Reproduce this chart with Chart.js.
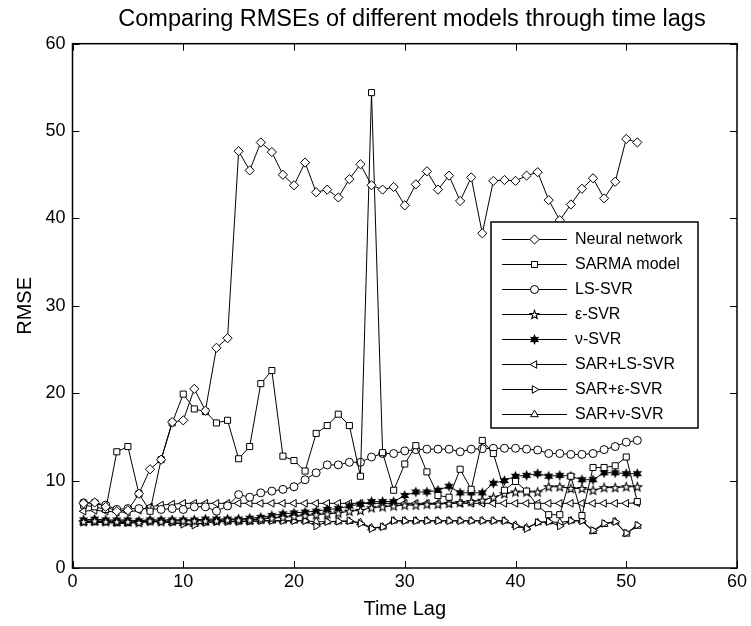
<!DOCTYPE html>
<html><head><meta charset="utf-8">
<script src="https://cdn.jsdelivr.net/npm/chart.js@4.4.0/dist/chart.umd.min.js"></script>
<style>html,body{margin:0;padding:0;background:#fff}#wrap{width:751px;height:626px}</style>
</head><body><div id="wrap"><canvas id="c" width="751" height="626"></canvas></div>
<script>
// ---------------- data ----------------
const lags = [1,2,3,4,5,6,7,8,9,10,11,12,13,14,15,16,17,18,19,20,21,22,23,24,25,26,27,28,29,30,31,32,33,34,35,36,37,38,39,40,41,42,43,44,45,46,47,48,49,50,51];
const neuralNetwork = [7.4,7.5,7.0,6.5,6.6,8.5,11.3,12.4,16.7,16.9,20.5,18.0,25.2,26.3,47.7,45.5,48.7,47.6,45.0,43.8,46.4,43.0,43.3,42.4,44.5,46.2,43.8,43.3,43.6,41.5,43.9,45.4,43.3,44.9,42.0,44.7,38.3,44.3,44.4,44.3,44.9,45.3,42.1,39.8,41.6,43.4,44.6,42.3,44.2,49.1,48.7];
const sarmaModel = [7.2,7.0,6.7,13.3,13.9,8.5,6.5,12.4,16.6,19.9,18.2,17.9,16.6,16.9,12.5,13.9,21.1,22.6,12.8,12.3,11.1,15.4,16.3,17.6,16.3,10.5,54.4,13.2,8.9,11.9,14.0,11.0,8.3,8.1,11.3,9.0,14.6,13.1,8.9,9.9,8.8,7.1,6.1,6.1,10.5,6.0,11.5,11.5,11.7,12.7,7.6];
const lsSvr = [7.45,7.45,7.2,6.7,6.8,6.8,6.8,6.7,6.8,6.7,7.0,7.0,6.5,7.1,8.4,8.1,8.6,8.8,9.0,9.3,10.1,10.9,11.8,11.8,12.1,12.1,12.7,13.1,13.1,13.4,13.55,13.6,13.6,13.6,13.3,13.6,13.65,13.7,13.7,13.7,13.6,13.5,13.1,13.1,13.0,13.0,13.1,13.55,13.9,14.4,14.6];
const epsSvr = [5.3,5.4,5.3,5.3,5.3,5.2,5.4,5.3,5.4,5.4,5.4,5.4,5.4,5.5,5.5,5.5,5.6,5.7,5.8,5.9,6.0,6.1,6.2,6.3,6.5,6.6,6.9,7.0,7.1,7.2,7.2,7.3,7.3,7.4,7.5,7.6,7.75,8.1,8.5,8.7,8.7,8.7,9.3,9.3,9.1,9.1,8.9,9.2,9.2,9.3,9.3];
const nuSvr = [5.5,5.6,5.5,5.5,5.5,5.4,5.5,5.5,5.5,5.5,5.5,5.6,5.6,5.6,5.6,5.7,5.8,6.0,6.2,6.3,6.4,6.5,6.7,6.8,7.1,7.3,7.6,7.6,7.6,8.3,8.7,8.7,8.9,9.35,8.6,8.6,8.6,9.7,10.0,10.5,10.6,10.8,10.5,10.6,10.5,10.1,10.1,10.9,10.9,10.8,10.8];
const sarLsSvr = [6.5,6.6,6.5,6.4,6.4,6.6,7.0,7.2,7.3,7.4,7.4,7.4,7.4,7.4,7.4,7.4,7.4,7.4,7.4,7.4,7.4,7.4,7.4,7.4,7.4,7.4,7.4,7.4,7.4,7.4,7.4,7.4,7.4,7.4,7.4,7.4,7.4,7.4,7.4,7.4,7.4,7.4,7.4,7.4,7.4,7.4,7.4,7.4,7.4,7.4,7.45];
const sarEpsSvr = [5.3,5.3,5.3,5.2,5.2,5.3,5.3,5.3,5.2,5.0,4.9,5.2,5.3,5.3,5.3,5.35,5.4,5.4,5.4,5.4,5.4,4.8,5.3,5.35,5.4,5.1,4.5,4.7,5.4,5.4,5.4,5.4,5.4,5.4,5.4,5.4,5.4,5.4,5.4,4.8,4.5,5.2,5.3,4.8,5.4,5.4,4.3,5.1,5.3,4.0,4.9];
const sarNuSvr = [5.2,5.2,5.2,5.1,5.1,5.2,5.3,5.3,5.2,5.1,5.0,5.2,5.3,5.3,5.3,5.3,5.4,5.4,5.4,5.4,5.4,5.3,5.3,5.3,5.35,5.2,4.6,4.7,5.4,5.4,5.4,5.4,5.4,5.4,5.4,5.4,5.4,5.4,5.4,4.9,4.6,5.2,5.3,5.2,5.4,5.4,4.2,5.0,5.3,3.9,4.8];
const seriesNames = ['Neural network','SARMA model','LS-SVR','\u03b5-SVR','\u03bd-SVR','SAR+LS-SVR','SAR+\u03b5-SVR','SAR+\u03bd-SVR'];
const seriesValues = [neuralNetwork, sarmaModel, lsSvr, epsSvr, nuSvr, sarLsSvr, sarEpsSvr, sarNuSvr];
const xTicks = [0,10,20,30,40,50,60];
const yTicks = [0,10,20,30,40,50,60];
const titleText = 'Comparing RMSEs of different models through time lags';
const xTitle = 'Time Lag';
const yTitle = 'RMSE';

// ---------------- markers ----------------
const FONT = "'Liberation Sans', Arial, Helvetica, sans-serif";
function starPath(g, cx, cy, n, ro, ri) {
  for (let i = 0; i < 2 * n; i++) {
    const r = i % 2 ? ri : ro;
    const a = -Math.PI / 2 + i * Math.PI / n;
    const px = cx + r * Math.cos(a), py = cy + r * Math.sin(a);
    if (i === 0) g.moveTo(px, py); else g.lineTo(px, py);
  }
  g.closePath();
}
function makeStar(n, ro, ri, fill) {
  const s = 13, c = document.createElement('canvas');
  c.width = s; c.height = s;
  const g = c.getContext('2d'), m = s / 2;
  g.lineWidth = 1.1; g.strokeStyle = '#000'; g.fillStyle = fill;
  g.beginPath();
  starPath(g, m, m + (n === 5 ? 0.4 : 0), n, ro, ri);
  g.fill(); g.stroke();
  return c;
}
// marker style per series: [pointStyle, radius, rotation]
const markerStyles = [
  ['rectRot', 4.6, 0],
  ['rect', 4.3, 0],
  ['circle', 4.0, 0],
  [makeStar(5, 4.5, 1.9, '#fff'), 5, 0],
  [makeStar(6, 4.1, 2.1, '#000'), 5, 0],
  ['triangle', 4.4, -90],
  ['triangle', 4.4, 90],
  ['triangle', 4.4, 0]
];

const datasets = seriesNames.map((name, i) => ({
  label: name,
  data: lags.map((x, j) => ({x: x, y: seriesValues[i][j]})),
  borderColor: '#000',
  borderWidth: 1,
  pointStyle: markerStyles[i][0],
  pointRadius: markerStyles[i][1],
  pointHoverRadius: markerStyles[i][1],
  pointRotation: markerStyles[i][2],
  pointBackgroundColor: '#fff',
  pointBorderColor: '#000',
  pointBorderWidth: 1,
  tension: 0,
  fill: false
}));

function drawMarker(ctx, style, r, rot, x, y) {
  ctx.save();
  ctx.fillStyle = '#fff'; ctx.strokeStyle = '#000'; ctx.lineWidth = 1;
  if (typeof style !== 'string') {
    ctx.drawImage(style, x - style.width / 2, y - style.height / 2);
  } else if (Chart.helpers && Chart.helpers.drawPoint) {
    Chart.helpers.drawPoint(ctx, {pointStyle: style, radius: r, rotation: rot, borderWidth: 1}, x, y);
  } else {
    ctx.beginPath(); ctx.arc(x, y, r, 0, Math.PI * 2); ctx.fill(); ctx.stroke();
  }
  ctx.restore();
}

// ---------------- plugins ----------------
const framePlugin = {
  id: 'frame',
  afterDatasetsDraw(chart) {
    const {ctx, chartArea: a, scales: {x, y}} = chart;
    ctx.save();
    ctx.strokeStyle = '#000';
    ctx.lineWidth = 1.5;
    ctx.strokeRect(a.left, a.top, a.right - a.left, a.bottom - a.top);
    ctx.lineWidth = 1;
    const tl = 7;
    ctx.beginPath();
    xTicks.forEach(v => {
      const px = Math.round(x.getPixelForValue(v)) + 0.5;
      ctx.moveTo(px, a.bottom); ctx.lineTo(px, a.bottom - tl);
      ctx.moveTo(px, a.top); ctx.lineTo(px, a.top + tl);
    });
    yTicks.forEach(v => {
      const py = Math.round(y.getPixelForValue(v)) + 0.5;
      ctx.moveTo(a.left, py); ctx.lineTo(a.left + tl, py);
      ctx.moveTo(a.right, py); ctx.lineTo(a.right - tl, py);
    });
    ctx.stroke();
    // title centred over the plot area
    ctx.fillStyle = '#000';
    ctx.font = '23.5px ' + FONT;
    ctx.textAlign = 'center';
    ctx.textBaseline = 'middle';
    ctx.fillText(titleText, 412, 20);
    ctx.restore();
  }
};
const legendPlugin = {
  id: 'boxLegend',
  afterDraw(chart) {
    const ctx = chart.ctx;
    const bx = 491, by = 222, bw = 207, bh = 206;
    ctx.save();
    ctx.fillStyle = '#fff';
    ctx.fillRect(bx, by, bw, bh);
    ctx.strokeStyle = '#000';
    ctx.lineWidth = 1.5;
    ctx.strokeRect(bx, by, bw, bh);
    ctx.font = '16px ' + FONT;
    ctx.textBaseline = 'middle';
    ctx.textAlign = 'left';
    chart.data.datasets.forEach((ds, i) => {
      const yy = by + 17 + 25 * i;
      ctx.strokeStyle = '#000';
      ctx.lineWidth = 1;
      ctx.beginPath();
      ctx.moveTo(502, yy + 0.5); ctx.lineTo(567, yy + 0.5);
      ctx.stroke();
      drawMarker(ctx, ds.pointStyle, ds.pointRadius, ds.pointRotation, 534.5, yy + 0.5);
      ctx.fillStyle = '#000';
      ctx.fillText(ds.label, 575, yy + 1);
    });
    ctx.restore();
  }
};

new Chart(document.getElementById('c'), {
  type: 'line',
  data: {datasets: datasets},
  options: {
    responsive: false,
    animation: false,
    devicePixelRatio: 1,
    events: [],
    layout: {padding: {left: 0, right: 14, top: 43.7, bottom: 0}},
    plugins: {
      legend: {display: false},
      tooltip: {enabled: false},
      title: {display: false}
    },
    scales: {
      x: {
        type: 'linear', min: 0, max: 60,
        afterBuildTicks(s) { s.ticks = xTicks.map(v => ({value: v})); },
        ticks: {color: '#000', font: {family: FONT, size: 18}, padding: 3, maxRotation: 0, autoSkip: false},
        grid: {display: false, drawTicks: false},
        border: {display: false},
        title: {display: true, text: xTitle, color: '#000', font: {family: FONT, size: 20}, padding: {top: 0, bottom: 5}},
        afterFit(s) { s.height = 58; }
      },
      y: {
        type: 'linear', min: 0, max: 60,
        afterBuildTicks(s) { s.ticks = yTicks.map(v => ({value: v})); },
        ticks: {color: '#000', font: {family: FONT, size: 18}, padding: 7, autoSkip: false},
        grid: {display: false, drawTicks: false},
        border: {display: false},
        title: {display: true, text: yTitle, color: '#000', font: {family: FONT, size: 20}, padding: {top: 13, bottom: 0}},
        afterFit(s) { s.width = 72.5; }
      }
    }
  },
  plugins: [framePlugin, legendPlugin]
});
</script>
</body></html>
